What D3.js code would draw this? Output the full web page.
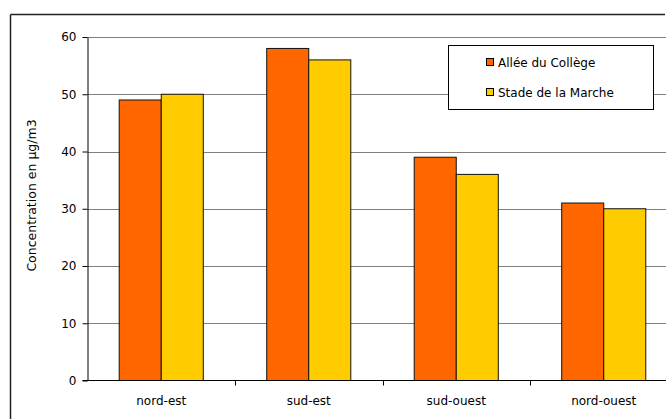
<!DOCTYPE html>
<html>
<head>
<meta charset="utf-8">
<script src="https://cdn.jsdelivr.net/npm/d3@7"></script>
<style>
  html, body { margin: 0; padding: 0; background: #fff; overflow: hidden; }
  svg { display: block; font-family: "DejaVu Sans", Verdana, sans-serif; }
</style>
</head>
<body>
<svg id="chart" width="666" height="419"></svg>
<script>
// Wind sectors and the two measurement sites
const categories = ["nord-est", "sud-est", "sud-ouest", "nord-ouest"];
const seriesNames = ["Allée du Collège", "Stade de la Marche"];
const seriesColors = ["#FF6600", "#FFCC00"];
const alleeDuCollege = [49, 58, 39, 31];
const stadeDeLaMarche = [50, 56, 36, 30];
const yTicks = [0, 10, 20, 30, 40, 50, 60];
const yLabel = "Concentration en µg/m3";

const seriesValues = [alleeDuCollege, stadeDeLaMarche];

const svg = d3.select("#chart");
const fontSize = 12;
const W = 666, H = 419;

// Outer chart frame: top and left edges
svg.append("line")
  .attr("x1", 10.5).attr("x2", W - 1).attr("y1", 14.5).attr("y2", 14.5)
  .attr("stroke", "#222").attr("stroke-width", 1.5);
svg.append("line")
  .attr("x1", 10.5).attr("x2", 10.5).attr("y1", 14.5).attr("y2", H)
  .attr("stroke", "#222").attr("stroke-width", 1.5);

const plot = { left: 87.5, right: 677.5, top: 37, bottom: 380.5 };
const visibleRight = Math.min(plot.right, W);

const y = d3.scaleLinear().domain([0, 60]).range([plot.bottom, plot.top]);
const x0 = d3.scaleBand().domain(categories)
  .range([plot.left, plot.right])
  .paddingInner(0.43).paddingOuter(0.215);
const x1 = d3.scaleBand().domain(seriesNames)
  .range([0, x0.bandwidth()]).padding(0);

// Horizontal gridlines
svg.append("g")
  .selectAll("line")
  .data(yTicks.filter(t => t > 0))
  .join("line")
  .attr("x1", plot.left).attr("x2", visibleRight)
  .attr("y1", d => Math.round(y(d)) + 0.5)
  .attr("y2", d => Math.round(y(d)) + 0.5)
  .attr("stroke", "#808080").attr("stroke-width", 1.2);

// Bars
const groups = svg.append("g")
  .selectAll("g")
  .data(categories)
  .join("g")
  .attr("transform", d => `translate(${x0(d)},0)`);

groups.selectAll("rect")
  .data((c, i) => seriesNames.map((s, k) => ({ s, k, v: seriesValues[k][i] })))
  .join("rect")
  .attr("x", d => x1(d.s))
  .attr("y", d => y(d.v))
  .attr("width", x1.bandwidth())
  .attr("height", d => y(0) - y(d.v))
  .attr("fill", d => seriesColors[d.k])
  .attr("stroke", "#111").attr("stroke-width", 1);

// Y axis
const yAxis = svg.append("g")
  .attr("transform", `translate(${plot.left},0)`)
  .call(d3.axisLeft(y).tickValues(yTicks).tickSize(5).tickPadding(6).tickSizeOuter(0));
yAxis.select(".domain").attr("stroke", "#000");
yAxis.selectAll(".tick line").attr("stroke", "#000");
yAxis.selectAll("text").attr("font-size", fontSize).attr("fill", "#000")
  .attr("font-family", "DejaVu Sans, Verdana, sans-serif");

// X axis: ticks sit on category boundaries
const xAxisG = svg.append("g").attr("transform", `translate(0,${plot.bottom})`);
xAxisG.append("line")
  .attr("x1", plot.left - 5).attr("x2", visibleRight)
  .attr("y1", 0).attr("y2", 0)
  .attr("stroke", "#000");
const step = x0.step();
const boundaries = d3.range(1, categories.length).map(i => plot.left + i * step);
xAxisG.selectAll("line.tick")
  .data(boundaries)
  .join("line")
  .attr("class", "tick")
  .attr("x1", d => Math.round(d) + 0.5).attr("x2", d => Math.round(d) + 0.5)
  .attr("y1", 0).attr("y2", 5)
  .attr("stroke", "#000");
xAxisG.selectAll("text")
  .data(categories)
  .join("text")
  .attr("x", d => x0(d) + x0.bandwidth() / 2)
  .attr("y", 24)
  .attr("text-anchor", "middle")
  .attr("font-size", fontSize)
  .attr("fill", "#000")
  .text(d => d);

// Y axis title
svg.append("text")
  .attr("transform", "translate(36,195.5) rotate(-90)")
  .attr("text-anchor", "middle")
  .attr("font-size", 12.5)
  .attr("fill", "#000")
  .text(yLabel);

// Legend
const legend = svg.append("g");
legend.append("rect")
  .attr("x", 448.5).attr("y", 45.5)
  .attr("width", 205).attr("height", 64)
  .attr("fill", "#fff")
  .attr("stroke", "#000").attr("stroke-width", 1);
const items = legend.selectAll("g.item")
  .data(seriesNames)
  .join("g")
  .attr("class", "item")
  .attr("transform", (d, i) => `translate(486,${58 + i * 30})`);
items.append("rect")
  .attr("x", 0.5).attr("y", 0.5)
  .attr("width", 7).attr("height", 7)
  .attr("fill", (d, i) => seriesColors[i])
  .attr("stroke", "#000").attr("stroke-width", 1);
items.append("text")
  .attr("x", 12).attr("y", 8.5)
  .attr("font-size", fontSize)
  .attr("fill", "#000")
  .text(d => d);
</script>
</body>
</html>
